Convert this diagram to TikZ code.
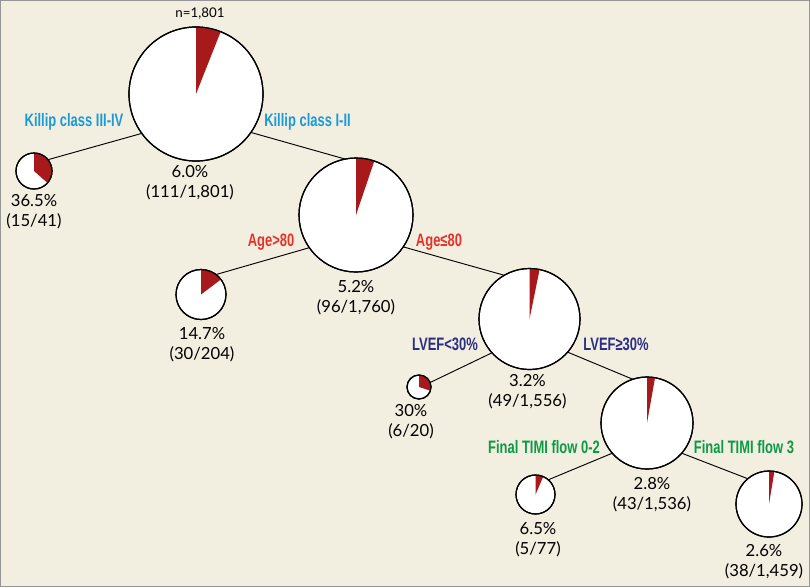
\documentclass[tikz,border=0pt]{standalone}
\usepackage{fontspec}
\usepackage{graphicx}
\setmainfont{Lato}
\newfontfamily\labfont{Liberation Sans}
\definecolor{bgcol}{RGB}{242,238,224}
\definecolor{framecol}{RGB}{150,150,150}
\definecolor{wedgecol}{RGB}{168,25,28}
\definecolor{kblue}{RGB}{27,154,215}
\definecolor{ared}{RGB}{229,51,42}
\definecolor{lnavy}{RGB}{43,46,131}
\definecolor{tgreen}{RGB}{12,154,70}
\newcommand{\condtext}[1]{\scalebox{0.72}[1]{#1}}
\newcommand{\mypie}[5]{%
  \node[pienode, minimum size=#4*1.5pt] (#1) at (#2,-#3) {};
  \fill[wedgecol] (#1.center) -- ++(90:#4*0.75pt) arc[start angle=90, end angle={90-3.6*#5}, radius=#4*0.75pt] -- cycle;
  \draw[line width=0.9pt] (#1.center) circle[radius=#4*0.75pt];
}
\tikzset{
  pienode/.style={circle, draw, line width=0.9pt, fill=white, inner sep=0pt, outer sep=0pt},
  conn/.style={draw, line width=0.7pt},
  val/.style={font=\fontsize{12.5}{15}\selectfont, align=center, inner sep=0pt},
  lab/.style={font=\labfont\bfseries\fontsize{13.5}{15}\selectfont, inner sep=0pt},
}
\begin{document}
\begin{tikzpicture}[x=0.75pt,y=0.75pt]
\useasboundingbox (0,0) rectangle (810,-587);
\draw[framecol, fill=bgcol, line width=0.75pt] (0.5,-0.5) rectangle (809.5,-586.5);

% pies
\mypie{root}{196}{94}{67}{6.0}
\mypie{kill}{34}{171}{18}{36.5}
\mypie{age}{356}{215}{57}{5.2}
\mypie{aold}{201}{294.5}{25}{14.7}
\mypie{lvef}{529.5}{319}{50.5}{3.2}
\mypie{llow}{419}{387}{12}{30}
\mypie{timi}{647}{423}{46}{2.8}
\mypie{tlow}{535.5}{494.5}{19.5}{6.5}
\mypie{thigh}{769}{504}{33}{2.6}

% connectors
\draw[conn] (root.216) -- (kill.39);
\draw[conn] (root.-35.5) -- (age.101);
\draw[conn] (age.215) -- (aold.53);
\draw[conn] (age.-34) -- (lvef.120);
\draw[conn] (lvef.222) -- (llow.22);
\draw[conn] (lvef.-41.5) -- (timi.108);
\draw[conn] (timi.221.6) -- (tlow.49);
\draw[conn] (timi.-41.6) -- (thigh.130);

% n label
\node[font=\fontsize{10}{12}\selectfont, inner sep=0pt] (ntot) at (200,-14) {n=1,801};

% split labels
\node[lab, text=kblue] (lk34) at (74,-122) {\condtext{Killip class III-IV}};
\node[lab, text=kblue] (lk12) at (307.5,-122) {\condtext{Killip class I-II}};
\node[lab, text=ared] (la80) at (271,-242) {\condtext{Age>80}};
\node[lab, text=ared] (la80b) at (439,-242) {\condtext{Age≤80}};
\node[lab, text=lnavy] (ll30) at (445,-344) {\condtext{LVEF<30\%}};
\node[lab, text=lnavy] (lh30) at (616,-344) {\condtext{LVEF≥30\%}};
\node[lab, text=tgreen] (lt02) at (544,-447) {\condtext{Final TIMI flow 0-2}};
\node[lab, text=tgreen] (lt3) at (744,-447) {\condtext{Final TIMI flow 3}};

% values
\node[val] (vroot) at (190,-183) {6.0\%\\(111/1,801)};
\node[val] (vkill) at (34,-212) {36.5\%\\(15/41)};
\node[val] (vage) at (356,-297.5) {5.2\%\\(96/1,760)};
\node[val] (vaold) at (202,-344.5) {14.7\%\\(30/204)};
\node[val] (vlvef) at (527.5,-392) {3.2\%\\(49/1,556)};
\node[val] (vllow) at (411,-421.5) {30\%\\(6/20)};
\node[val] (vtimi) at (652,-494.5) {2.8\%\\(43/1,536)};
\node[val] (vtlow) at (538,-539.5) {6.5\%\\(5/77)};
\node[val] (vthigh) at (764,-561.5) {2.6\%\\(38/1,459)};
\end{tikzpicture}
\end{document}
